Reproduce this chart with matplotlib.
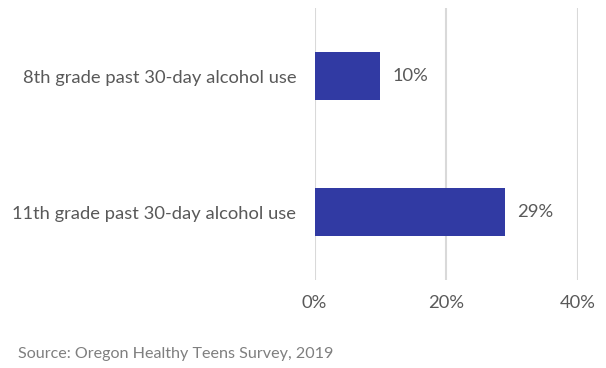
import matplotlib
matplotlib.use("Agg")
import matplotlib.pyplot as plt

categories = ["8th grade past 30-day alcohol use", "11th grade past 30-day alcohol use"]
values = [10, 29]
xticks = [0, 20, 40]
xtick_labels = ["0%", "20%", "40%"]
source = "Source: Oregon Healthy Teens Survey, 2019"

W, H = 606, 368
fig = plt.figure(figsize=(W / 100, H / 100), dpi=100)
plt.rcParams['font.family'] = ['Lato', 'DejaVu Sans']
gray = '#595959'
fs = 13.2

left, right, top, bottom = 314.5, 577.5, 8, 280
ax = fig.add_axes([left / W, 1 - bottom / H, (right - left) / W, (bottom - top) / H])
ypos = [0, 1]
ax.barh(ypos, values, height=0.35, color='#313AA3', zorder=3)
ax.set_ylim(1.5, -0.5)
ax.set_xlim(0, 40)
ax.set_xticks(xticks)
ax.set_xticklabels(xtick_labels, fontsize=fs, color=gray)
ax.set_yticks(ypos)
ax.set_yticklabels(categories, fontsize=fs, color=gray)
ax.tick_params(axis='both', length=0)
ax.tick_params(axis='x', pad=11)
ax.tick_params(axis='y', pad=13)
ax.xaxis.grid(True, color='#D9D9D9', linewidth=1.5, zorder=0)
for s in ax.spines.values():
    s.set_visible(False)
for y, v in zip(ypos, values):
    ax.text(v + 1.8, y, f"{v}%", va='center', ha='left', fontsize=fs, color=gray)

fig.text(18 / W, 1 - 354 / H, source, fontsize=11.6, color='#7F7F7F', va='center', ha='left')
fig.savefig("out.png", dpi=100)
